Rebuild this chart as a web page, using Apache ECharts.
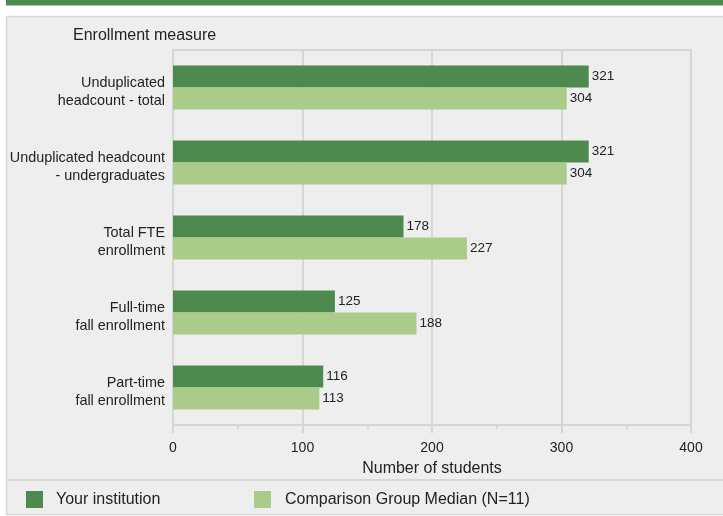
<!DOCTYPE html>
<html lang="en">
<head>
  <meta charset="UTF-8">
  <title>Enrollment measure</title>
  <script src="https://cdn.jsdelivr.net/npm/echarts@6/dist/echarts.min.js"></script>
  <style>
    body { margin: 0; background: #fff; }
  </style>
</head>
<body>
<div id="main" style="width: 723px;height: 516px;"></div>
<script>
  // data
  let categories = [
    'Unduplicated\nheadcount - total',
    'Unduplicated headcount\n- undergraduates',
    'Total FTE\nenrollment',
    'Full-time\nfall enrollment',
    'Part-time\nfall enrollment'
  ]
  let yourInstitution = [321, 321, 178, 125, 116]
  let comparisonMedian = [304, 304, 227, 188, 113]
  let xTicks = [0, 100, 200, 300, 400]

  let darkGreen = '#4e894d'
  let lightGreen = '#aacb8a'
  let gridGrey = '#d6d6d6'
  let font = 'Arial, "Liberation Sans", sans-serif'

  let myChart = echarts.init(document.getElementById('main'))

  let labelStyle = {
    show: true,
    position: 'right',
    distance: 3,
    color: '#222',
    fontSize: 13.5,
    fontFamily: font
  }

  // category labels sit a little below the middle of the bar pair,
  // so a short empty line goes on top
  function catLabel(v) {
    return '{s| }\n' + v.split('\n').map(s => '{n|' + s + '}').join('\n')
  }

  option = {
    backgroundColor: '#fff',
    animation: false,
    // panel background, border and the stripe on top
    graphic: [
      { type: 'rect', shape: { x: 6, y: 0, width: 717, height: 5.5 }, style: { fill: darkGreen } },
      { type: 'rect', z: -10, shape: { x: 6.5, y: 16.5, width: 720, height: 498 }, style: { fill: '#eeeeee', stroke: gridGrey, lineWidth: 1.5 } },
      { type: 'line', shape: { x1: 6, y1: 480, x2: 723, y2: 480 }, style: { stroke: gridGrey, lineWidth: 2 } }
    ],
    title: {
      text: 'Enrollment measure',
      left: 73,
      top: 28,
      padding: 0,
      textStyle: { fontSize: 16, fontWeight: 'normal', color: '#222', fontFamily: font }
    },
    legend: [
      {
        data: ['Your institution'],
        left: 26, top: 491, padding: 0,
        icon: 'rect', itemWidth: 17, itemHeight: 17,
        textStyle: { fontSize: 16, color: '#222', fontFamily: font, padding: [0, 0, 0, 8] }
      },
      {
        data: ['Comparison Group Median (N=11)'],
        left: 254, top: 491, padding: 0,
        icon: 'rect', itemWidth: 17, itemHeight: 17,
        textStyle: { fontSize: 16, color: '#222', fontFamily: font, padding: [0, 0, 0, 9] }
      }
    ],
    grid: {
      left: 173, right: 32, top: 50, bottom: 91,
      show: true,
      borderColor: gridGrey,
      borderWidth: 2,
      backgroundColor: 'transparent'
    },
    xAxis: {
      type: 'value',
      min: xTicks[0],
      max: xTicks[xTicks.length - 1],
      interval: 100,
      name: 'Number of students',
      nameLocation: 'middle',
      nameGap: 36,
      nameTextStyle: { fontSize: 16, color: '#222', fontFamily: font },
      axisLine: { show: true, lineStyle: { color: gridGrey, width: 2 } },
      axisTick: { show: true, length: 8, lineStyle: { color: gridGrey, width: 2 } },
      minorTick: { show: true, splitNumber: 2, length: 4, lineStyle: { color: gridGrey, width: 2 } },
      splitLine: { show: true, lineStyle: { color: gridGrey, width: 2 } },
      axisLabel: { fontSize: 14, color: '#222', fontFamily: font, margin: 16 }
    },
    yAxis: {
      type: 'category',
      data: categories,
      inverse: true,
      axisLine: { show: true, lineStyle: { color: gridGrey, width: 2 } },
      axisTick: { show: false },
      axisLabel: {
        color: '#222', margin: 8, align: 'right',
        formatter: catLabel,
        rich: {
          s: { fontSize: 8, lineHeight: 10 },
          n: { fontSize: 14.4, fontFamily: font, color: '#222', lineHeight: 18 }
        }
      }
    },
    series: [
      {
        name: 'Your institution',
        type: 'bar',
        data: yourInstitution,
        barWidth: 22,
        barGap: '0%',
        itemStyle: { color: darkGreen },
        label: labelStyle
      },
      {
        name: 'Comparison Group Median (N=11)',
        type: 'bar',
        data: comparisonMedian,
        barWidth: 22,
        itemStyle: { color: lightGreen },
        label: labelStyle
      }
    ]
  }
  myChart.setOption(option)
</script>
</body>
</html>
